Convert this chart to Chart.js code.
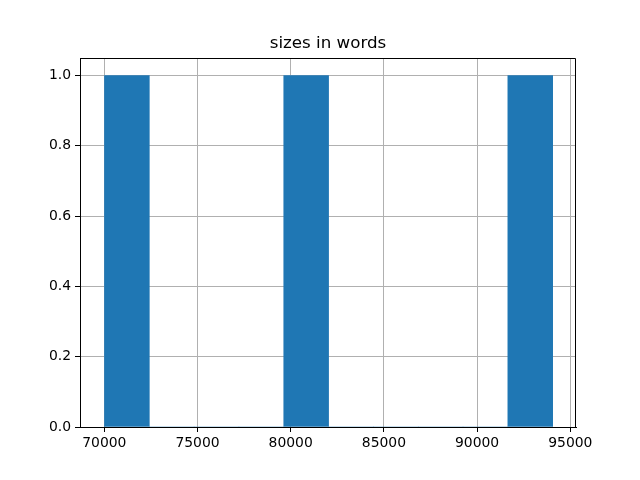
<!DOCTYPE html>
<html>
<head>
<meta charset="utf-8">
<script src="https://cdn.jsdelivr.net/npm/chart.js@4/dist/chart.umd.min.js"></script>
<style>
html,body{margin:0;padding:0;background:#fff;}
#wrap{width:640px;height:480px;}
</style>
</head>
<body>
<div id="wrap"><canvas id="c" width="640" height="480"></canvas></div>
<script>
const titleText = "sizes in words";
const binCenters = [71212, 73617, 76021, 78426, 80830, 83234, 85639, 88043, 90448, 92852];
const counts = [1, 0, 0, 0, 1, 0, 0, 0, 0, 1];
const xTicks = [70000, 75000, 80000, 85000, 90000, 95000];
const yTicks = [0, 0.2, 0.4, 0.6, 0.8, 1.0];
const xMin = 68696, xMax = 95306;
const yMin = 0, yMax = 1.05;

const frame = {
  id: 'frame',
  afterDraw(chart) {
    const {ctx, chartArea: a} = chart;
    const t = Math.round(a.top) + 0.5, r = Math.round(a.right) - 0.5;
    ctx.save();
    ctx.strokeStyle = '#000';
    ctx.lineWidth = 1;
    ctx.beginPath();
    ctx.moveTo(Math.round(a.left), t);
    ctx.lineTo(r, t);
    ctx.lineTo(r, Math.round(a.bottom));
    ctx.stroke();
    ctx.restore();
  }
};

const font = {family: 'DejaVu Sans', size: 13.9};
new Chart(document.getElementById('c'), {
  type: 'bar',
  data: {
    datasets: [{
      data: binCenters.map((x, i) => ({x: x, y: counts[i]})),
      backgroundColor: '#1f77b4',
      borderWidth: 0,
      categoryPercentage: 1,
      barPercentage: 1
    }]
  },
  options: {
    responsive: false,
    animation: false,
    layout: {padding: {left: 16, right: 0, top: 0, bottom: 0}},
    plugins: {
      legend: {display: false},
      tooltip: {enabled: false},
      title: {
        display: true, text: titleText, color: '#000',
        font: {family: 'DejaVu Sans', size: 16.7, weight: 'normal'},
        padding: {top: 34, bottom: 4}
      }
    },
    scales: {
      x: {
        type: 'linear', min: xMin, max: xMax, offset: false, z: 1,
        afterBuildTicks: s => { s.ticks = xTicks.map(v => ({value: v})); },
        afterFit: s => { s.height = 53; },
        grid: {color: '#b0b0b0', lineWidth: 1, tickColor: '#000', tickLength: 5, offset: false, drawOnChartArea: true},
        border: {color: '#000', width: 1},
        ticks: {color: '#000', font: font, padding: 3, maxRotation: 0, callback: v => String(v)}
      },
      y: {
        type: 'linear', min: yMin, max: yMax, z: 1,
        afterBuildTicks: s => { s.ticks = yTicks.map(v => ({value: v})); },
        afterFit: s => { s.width = 64; },
        grid: {color: '#b0b0b0', lineWidth: 1, tickColor: '#000', tickLength: 5},
        border: {color: '#000', width: 1},
        ticks: {color: '#000', font: font, padding: 4, callback: v => Number(v).toFixed(1)}
      },
      yRight: {
        type: 'linear', position: 'right', min: yMin, max: yMax,
        afterFit: s => { s.width = 64; },
        grid: {display: false, drawOnChartArea: false},
        border: {display: false},
        ticks: {display: false}
      }
    }
  },
  plugins: [frame]
});
</script>
</body>
</html>
